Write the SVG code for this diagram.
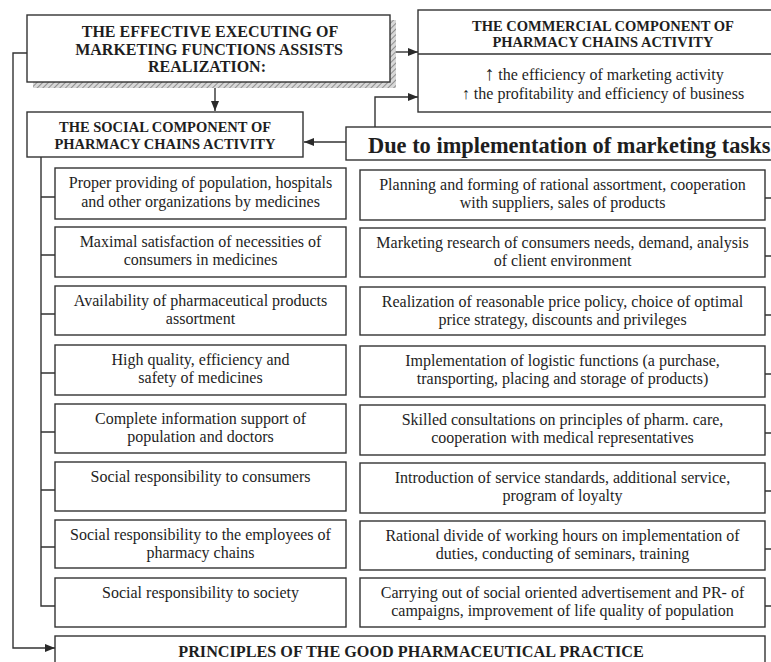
<svg xmlns="http://www.w3.org/2000/svg" width="771" height="662" viewBox="0 0 771 662">
<defs>
<pattern id="hatch" width="4" height="4" patternUnits="userSpaceOnUse" patternTransform="rotate(45)">
<rect width="4" height="4" fill="#d8d8d8"/>
<line x1="0" y1="0" x2="0" y2="4" stroke="#777" stroke-width="1.5"/>
</pattern>
<marker id="arr" markerWidth="10" markerHeight="8" refX="10" refY="4" orient="auto" markerUnits="userSpaceOnUse">
<path d="M0,0 L10,4 L0,8 Z" fill="#2a2a2a"/>
</marker>
</defs>
<style>
rect.box{fill:#fff;stroke:#333;stroke-width:1.4}
.ln{fill:none;stroke:#333;stroke-width:1.4}
text{font-family:"Liberation Serif","Times New Roman",serif;fill:#1e1e1e;text-anchor:middle}
.hd{font-weight:bold;font-size:14.5px}
.hd2{font-weight:bold;font-size:16px}
.bd{font-size:16px}
.big{font-weight:bold;font-size:22.4px;text-anchor:start}
</style>
<rect width="771" height="662" fill="#fff"/>

<g id="connectors">
<line class="ln" x1="215" y1="88" x2="215" y2="111" marker-end="url(#arr)"/>
<line class="ln" x1="396" y1="52" x2="418" y2="52" marker-end="url(#arr)"/>
<line class="ln" x1="346" y1="142" x2="304" y2="142" marker-end="url(#arr)"/>
<path class="ln" d="M375 127 V97 H418" marker-end="url(#arr)"/>
<path class="ln" d="M27 53 H13 V648 H55" marker-end="url(#arr)"/>
<path class="ln" d="M41 157 V606 H55 M41 197 H55 M41 255 H55 M41 314 H55 M41 373 H55 M41 432 H55 M41 490 H55 M41 547 H55"/>
<path class="ln" d="M765 198 H771 M765 256 H771 M765 315 H771 M765 374 H771 M765 433 H771 M765 491 H771 M765 549 H771 M765 606 H771"/>
</g>

<g id="top">
<path d="M33 82 H396 V20 H390 V82 Z" fill="url(#hatch)"/>
<rect x="33" y="82" width="363" height="6" fill="url(#hatch)"/>
<rect class="box" x="27" y="15" width="363" height="67"/>
<text class="hd2" x="210" y="37">THE EFFECTIVE EXECUTING OF</text>
<text class="hd2" x="209" y="55">MARKETING FUNCTIONS ASSISTS</text>
<text class="hd2" x="207" y="72">REALIZATION:</text>
</g>

<g id="commercial">
<rect class="box" x="418" y="10" width="370" height="102"/>
<line class="ln" x1="418" y1="54" x2="771" y2="54"/>
<text class="hd" x="603" y="31">THE COMMERCIAL COMPONENT OF</text>
<text class="hd" x="603" y="47">PHARMACY CHAINS ACTIVITY</text>
<text class="bd" x="604" y="80"><tspan style="font-size:20px">↑</tspan> the efficiency of marketing activity</text>
<text class="bd" x="603" y="99">↑ the profitability and efficiency of business</text>
</g>

<g id="social">
<rect class="box" x="27" y="112" width="276" height="45"/>
<text class="hd" x="165" y="132">THE SOCIAL COMPONENT OF</text>
<text class="hd" x="165" y="149">PHARMACY CHAINS ACTIVITY</text>
</g>

<g id="due">
<rect class="box" x="346" y="127" width="440" height="33"/>
<text class="big" x="368" y="153">Due to implementation of marketing tasks</text>
</g>

<g id="s1"><rect class="box" x="55" y="168" width="291" height="51"/>
<text class="bd" x="200.5" y="188">Proper providing of population, hospitals</text>
<text class="bd" x="200.5" y="207">and other organizations by medicines</text></g>
<g id="s2"><rect class="box" x="55" y="227" width="291" height="50"/>
<text class="bd" x="200.5" y="247">Maximal satisfaction of necessities of</text>
<text class="bd" x="200.5" y="265">consumers in medicines</text></g>
<g id="s3"><rect class="box" x="55" y="286" width="291" height="49"/>
<text class="bd" x="200.5" y="306">Availability of pharmaceutical products</text>
<text class="bd" x="200.5" y="324">assortment</text></g>
<g id="s4"><rect class="box" x="55" y="345" width="291" height="50"/>
<text class="bd" x="200.5" y="365">High quality, efficiency and</text>
<text class="bd" x="200.5" y="383">safety of medicines</text></g>
<g id="s5"><rect class="box" x="55" y="404" width="291" height="49"/>
<text class="bd" x="200.5" y="424">Complete information support of</text>
<text class="bd" x="200.5" y="442">population and doctors</text></g>
<g id="s6"><rect class="box" x="55" y="462" width="291" height="49"/>
<text class="bd" x="200.5" y="482">Social responsibility to consumers</text></g>
<g id="s7"><rect class="box" x="55" y="520" width="291" height="48"/>
<text class="bd" x="200.5" y="540">Social responsibility to the employees of</text>
<text class="bd" x="200.5" y="558">pharmacy chains</text></g>
<g id="s8"><rect class="box" x="55" y="578" width="291" height="49"/>
<text class="bd" x="200.5" y="598">Social responsibility to society</text></g>

<g id="m1"><rect class="box" x="360" y="170" width="405" height="50"/>
<text class="bd" x="562.5" y="190">Planning and forming of rational assortment, cooperation</text>
<text class="bd" x="562.5" y="208">with suppliers, sales of products</text></g>
<g id="m2"><rect class="box" x="360" y="228" width="405" height="49"/>
<text class="bd" x="562.5" y="248">Marketing research of consumers needs, demand, analysis</text>
<text class="bd" x="562.5" y="266">of client environment</text></g>
<g id="m3"><rect class="box" x="360" y="287" width="405" height="48"/>
<text class="bd" x="562.5" y="307">Realization of reasonable price policy, choice of optimal</text>
<text class="bd" x="562.5" y="325">price strategy, discounts and privileges</text></g>
<g id="m4"><rect class="box" x="360" y="346" width="405" height="51"/>
<text class="bd" x="562.5" y="366">Implementation of logistic functions (a purchase,</text>
<text class="bd" x="562.5" y="384">transporting, placing and storage of products)</text></g>
<g id="m5"><rect class="box" x="360" y="405" width="405" height="50"/>
<text class="bd" x="562.5" y="425">Skilled consultations on principles of pharm. care,</text>
<text class="bd" x="562.5" y="443">cooperation with medical representatives</text></g>
<g id="m6"><rect class="box" x="360" y="463" width="405" height="50"/>
<text class="bd" x="562.5" y="483">Introduction of service standards, additional service,</text>
<text class="bd" x="562.5" y="501">program of loyalty</text></g>
<g id="m7"><rect class="box" x="360" y="521" width="405" height="49"/>
<text class="bd" x="562.5" y="541">Rational divide of working hours on implementation of</text>
<text class="bd" x="562.5" y="559">duties, conducting of seminars, training</text></g>
<g id="m8"><rect class="box" x="360" y="578" width="405" height="49"/>
<text class="bd" x="562.5" y="598">Carrying out of social oriented advertisement and PR- of</text>
<text class="bd" x="562.5" y="616">campaigns, improvement of life quality of population</text></g>

<g id="principles">
<rect class="box" x="55" y="636" width="710" height="40"/>
<text class="hd" x="411" y="657" style="font-size:16.2px">PRINCIPLES OF THE GOOD PHARMACEUTICAL PRACTICE</text>
</g>
</svg>
